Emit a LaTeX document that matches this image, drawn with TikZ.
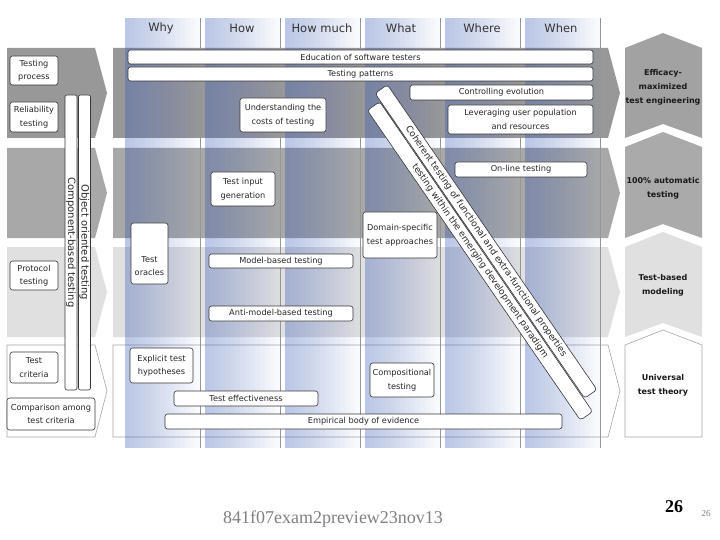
\documentclass[tikz,border=0pt]{standalone}
\usepackage{fontspec}
\setmainfont{DejaVu Sans}
\newfontfamily\seriffont{Liberation Serif}
\definecolor{rowA}{RGB}{152,152,152}
\definecolor{rowB}{RGB}{168,168,168}
\definecolor{rowC}{RGB}{224,224,224}
\definecolor{chevA}{RGB}{162,162,162}
\definecolor{chevB}{RGB}{170,170,170}
\definecolor{colblue}{RGB}{70,105,200}
\definecolor{edge}{RGB}{55,55,55}
\definecolor{outline}{RGB}{165,165,165}
\definecolor{sepline}{RGB}{150,150,150}
\tikzset{
  bx/.style={draw=edge, fill=white, line width=0.6pt, rounded corners=2.5pt, inner sep=1pt, align=center, font=\fontsize{8.2}{13.5}\selectfont, text=black!85},
  txt/.style={inner sep=0pt, align=center, font=\fontsize{8.2}{13.5}\selectfont, text=black!85},
  hdr/.style={inner sep=0pt, font=\fontsize{11.5}{13}\selectfont, text=black!80},
  chevtxt/.style={inner sep=0pt, align=center, font=\bfseries\fontsize{8}{14}\selectfont, text=black!90},
  band/.style={draw=edge, fill=white, line width=0.6pt, rounded corners=3pt, inner sep=0pt, minimum height=15, rotate=-55.5, font=\fontsize{9}{10}\selectfont, text=black!85},
  vbar/.style={draw=edge, fill=white, line width=0.6pt, rounded corners=2pt, inner sep=0pt, minimum height=12, minimum width=295, rotate=-90, font=\fontsize{10}{11}\selectfont, text=black!85},
  sep/.style={draw=sepline, line width=0.5pt},
  tint/.style={fill=colblue, fill opacity=0.027},
  rowline/.style={draw=outline, line width=0.6pt, fill=white}
}
\begin{document}
\begin{tikzpicture}[x=1pt,y=-1pt]
\useasboundingbox (0,0) rectangle (720,540);
\fill[white] (0,0) rectangle (720,540);

% left chevrons
\fill[rowA] (7,48) -- (95,48) -- (107,93) -- (95,138) -- (7,138) -- cycle;
\fill[rowB] (7,148) -- (95,148) -- (107,193) -- (95,238) -- (7,238) -- cycle;
\fill[rowC] (7,247) -- (95,247) -- (107,292) -- (95,337) -- (7,337) -- cycle;
\path[rowline] (7,345) -- (95,345) -- (107,391) -- (95,437) -- (7,437) -- cycle;

% main row arrows
\fill[rowA] (113,48) -- (608,48) -- (620,93) -- (608,138) -- (113,138) -- cycle;
\fill[rowB] (113,148) -- (608,148) -- (620,193) -- (608,238) -- (113,238) -- cycle;
\fill[rowC] (113,247) -- (608,247) -- (620,292) -- (608,337) -- (113,337) -- cycle;
\path[rowline] (113,345) -- (608,345) -- (620,391) -- (608,437) -- (113,437) -- cycle;

% columns (blue tint fading to the right)
\foreach \x in {125,205,285,365,445,525}{
  \foreach \i in {0,...,14}{
    \path[tint] (\x,18) rectangle (\x+75-5*\i,448);
  }
  \draw[sep] (\x+75,18) -- (\x+75,448);
}

% right chevrons
\fill[chevA] (625,48) -- (663,33) -- (702,48) -- (702,138) -- (663,124) -- (625,138) -- cycle;
\fill[chevB] (625,147) -- (663,132) -- (702,147) -- (702,238) -- (663,224) -- (625,238) -- cycle;
\fill[rowC] (625,247) -- (663,232) -- (702,247) -- (702,337) -- (663,323) -- (625,337) -- cycle;
\path[rowline] (625,345) -- (663,330) -- (702,345) -- (702,437) -- (625,437) -- cycle;

\node[chevtxt] (c1t) at (663,87) {Efficacy-\\maximized\\test engineering};
\node[chevtxt] (c2t) at (663,188.5) {100\% automatic\\testing};
\node[chevtxt] (c3t) at (663,285) {Test-based\\modeling};
\node[chevtxt] (c4t) at (663,385.5) {Universal\\test theory};

% headers
\node[hdr] (hWhy) at (161,28) {Why};
\node[hdr] (hHow) at (242,28) {How};
\node[hdr] (hHowMuch) at (322,28) {How much};
\node[hdr] (hWhat) at (401,28) {What};
\node[hdr] (hWhere) at (482,28) {Where};
\node[hdr] (hWhen) at (561,28) {When};

% left vertical bars
\node[vbar] (cbt) at (71,242.5) {Component-based testing};
\node[vbar] (oot) at (84.5,242.5) {Object oriented testing};

% left boxes
\node[bx, minimum width=48, minimum height=29] (tp) at (34,70.5) {Testing\\process};
\node[bx, minimum width=48, minimum height=30] (rt) at (34,117) {Reliability\\testing};
\node[bx, minimum width=48, minimum height=29] (pt) at (34,275.5) {Protocol\\testing};
\node[bx, minimum width=48, minimum height=31] (tc) at (34,367.5) {Test\\criteria};
\node[bx, minimum width=88, minimum height=32] (cac) at (51,414) {Comparison among\\test criteria};

% main boxes
\node[bx, minimum width=465, minimum height=14] (edu) at (360.5,57) {Education of software testers};
\node[bx, minimum width=465, minimum height=14] (pat) at (360.5,74) {Testing patterns};
\node[bx, minimum width=183, minimum height=15] (ctl) at (501.5,92.5) {Controlling evolution};
\node[bx, minimum width=145, minimum height=29] (lev) at (520.5,119.5) {Leveraging user population\\and resources};
\node[bx, minimum width=86, minimum height=34] (und) at (283,115) {Understanding the\\costs of testing};
\node[bx, minimum width=64, minimum height=34] (tig) at (243,189) {Test input\\generation};
\node[bx, minimum width=132, minimum height=15] (onl) at (521,169.5) {On-line testing};
\node[bx, minimum width=74, minimum height=46] (dom) at (400,235) {Domain-specific\\test approaches};
\node[bx, minimum width=37, minimum height=61] (orc) at (149.5,253.5) {};
\node[txt] (orct) at (149.5,266) {Test\\oracles};
\node[bx, minimum width=144, minimum height=14] (mbt) at (281,261) {Model-based testing};
\node[bx, minimum width=144, minimum height=15] (amb) at (281,313.5) {Anti-model-based testing};
\node[bx, minimum width=63, minimum height=35] (eth) at (161.5,365.5) {Explicit test\\hypotheses};
\node[bx, minimum width=144, minimum height=15] (tef) at (246,398.5) {Test effectiveness};
\node[bx, minimum width=397, minimum height=15] (ebe) at (363.5,421.5) {Empirical body of evidence};
\node[bx, minimum width=64, minimum height=34] (cmp) at (402,380) {Compositional\\testing};

% diagonal bands
\node[band, minimum width=376] (bB) at (480,261) {testing within the emerging development paradigm};
\node[band, minimum width=370] (bA) at (486,241.5) {Coherent testing of functional and extra-functional properties};

% footer
\node[inner sep=0pt, font=\seriffont\fontsize{18}{20}\selectfont, text=gray] (foot) at (333,519) {841f07exam2preview23nov13};
\node[inner sep=0pt, font=\seriffont\bfseries\fontsize{18}{20}\selectfont] (pg) at (674,507) {26};
\node[inner sep=0pt, font=\seriffont\fontsize{9}{10}\selectfont, text=gray] (pg2) at (706,514) {26};
\end{tikzpicture}
\end{document}
